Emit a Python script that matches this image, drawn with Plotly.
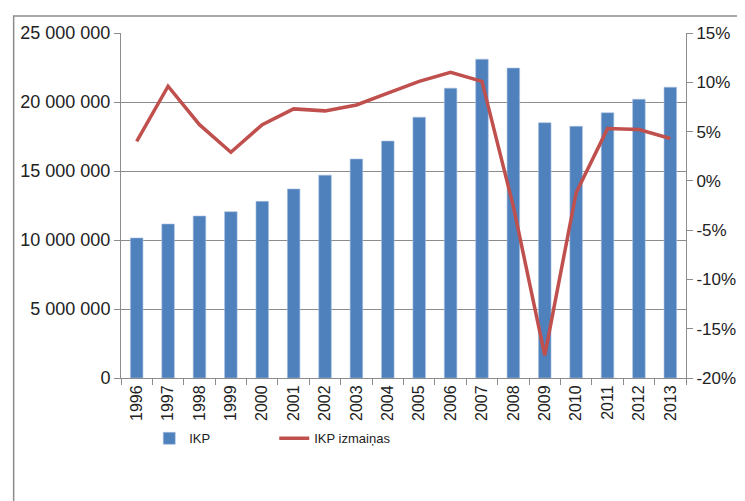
import plotly.graph_objects as go

# data
years = ['1996', '1997', '1998', '1999', '2000', '2001', '2002', '2003', '2004',
         '2005', '2006', '2007', '2008', '2009', '2010', '2011', '2012', '2013']
ikp = [10150000, 11160000, 11740000, 12050000, 12800000, 13700000, 14700000, 15870000,
       17170000, 18900000, 21000000, 23100000, 22460000, 18500000, 18240000, 19220000,
       20200000, 21070000]
ikp_change = [4.0, 9.6, 5.7, 2.9, 5.7, 7.3, 7.1, 7.7, 8.9, 10.1, 11.0, 10.1, -2.6,
              -17.7, -1.2, 5.3, 5.2, 4.3]

left_vals = [0, 5000000, 10000000, 15000000, 20000000, 25000000]
left_text = ['0', '5 000 000', '10 000 000', '15 000 000', '20 000 000', '25 000 000']
right_vals = [-20, -15, -10, -5, 0, 5, 10, 15]
right_text = ['-20%', '-15%', '-10%', '-5%', '0%', '5%', '10%', '15%']

font = 'Liberation Sans'
grey = '#8c8c8c'

fig = go.Figure()
fig.add_trace(go.Bar(
    x=years, y=ikp, name='IKP',
    marker=dict(color='#4F81BD', line=dict(color='#a9c1e0', width=0.6)),
))
fig.add_trace(go.Scatter(
    x=years, y=ikp_change, name='IKP izmaiņas', yaxis='y2',
    mode='lines', line=dict(color='#C0504D', width=3.5),
))

# page has an 8px body margin, so margins are shifted to compensate
fig.update_layout(
    width=745, height=501,
    margin=dict(l=109, r=67, t=25, b=131),
    plot_bgcolor='white', paper_bgcolor='white',
    bargap=0.6,
    font=dict(family=font, size=17, color='#222'),
    showlegend=True,
    legend=dict(orientation='h', x=0.05, y=-0.175, xanchor='left', yanchor='middle',
                font=dict(size=13, family=font),
                entrywidth=80, entrywidthmode='pixels'),
    xaxis=dict(type='category', tickangle=-90, showline=True, linecolor=grey,
               ticks='outside', tickson='boundaries', ticklen=6, tickcolor=grey,
               tickfont=dict(size=16), showgrid=False),
    yaxis=dict(range=[0, 25000000], tickvals=left_vals, ticktext=left_text,
               tickfont=dict(size=18),
               showline=True, linecolor=grey, ticks='outside', ticklen=6, tickcolor=grey,
               showgrid=True, gridcolor=grey, gridwidth=1, zeroline=False),
    yaxis2=dict(range=[-20, 15], tickvals=right_vals, ticktext=right_text,
                overlaying='y', side='right', showline=True, linecolor=grey,
                ticks='outside', ticklen=6, tickcolor=grey, showgrid=False,
                zeroline=False),
    shapes=[dict(type='rect', xref='paper', yref='paper',
                 x0=-0.19, x1=1.13, y0=-0.42, y1=1.049,
                 line=dict(color=grey, width=1.5))],
)

fig.write_html('out.html')
